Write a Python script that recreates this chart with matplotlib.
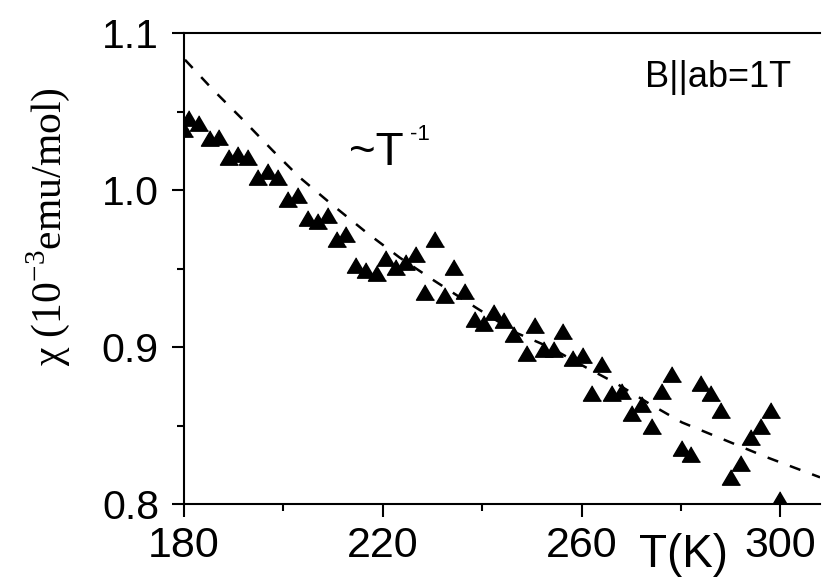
import matplotlib
matplotlib.use('Agg')
import matplotlib.pyplot as plt
from matplotlib.ticker import FormatStrFormatter

plt.rcParams['font.family'] = ['Liberation Sans', 'DejaVu Sans']
plt.rcParams['mathtext.fontset'] = 'custom'
plt.rcParams['mathtext.rm'] = 'Liberation Serif'

# measured susceptibility, B || ab = 1 T
temp = [180.0, 181.0, 183.0, 185.2, 187.0, 189.0, 190.8, 192.9, 194.9, 196.9,
        198.9, 200.9, 202.9, 204.9, 206.9, 208.9, 210.7, 212.7, 214.7, 216.7,
        218.8, 220.6, 222.6, 224.6, 226.6, 228.6, 230.6, 232.6, 234.4, 236.6,
        238.6, 240.4, 242.4, 244.5, 246.5, 249.1, 250.7, 252.5, 254.5, 256.3,
        258.3, 260.3, 262.1, 264.1, 266.1, 268.2, 270.2, 272.2, 274.2, 276.2,
        278.2, 280.2, 282.0, 284.0, 286.0, 288.0, 290.0, 292.0, 294.1, 296.1,
        298.1, 299.9]
chi = [1.039, 1.046, 1.043, 1.033, 1.034, 1.021, 1.023, 1.021, 1.008, 1.012,
       1.008, 0.994, 0.997, 0.982, 0.980, 0.984, 0.969, 0.972, 0.952, 0.949,
       0.947, 0.957, 0.951, 0.954, 0.959, 0.935, 0.969, 0.933, 0.951, 0.936,
       0.918, 0.915, 0.922, 0.917, 0.908, 0.896, 0.914, 0.899, 0.899, 0.910,
       0.893, 0.895, 0.871, 0.889, 0.871, 0.872, 0.858, 0.864, 0.850, 0.872,
       0.883, 0.836, 0.832, 0.877, 0.871, 0.860, 0.817, 0.826, 0.843, 0.850,
       0.860, 0.803]

# ~1/T curve
fit_t = [180.2, 185.8, 191.8, 197.9, 203.3, 209.3, 216.7, 223.4, 230.0, 238.8,
         246.9, 253.5, 260.9, 266.9, 273.6, 280.2, 290.2, 297.1, 308.0]
fit_chi = [1.083, 1.064, 1.045, 1.025, 1.008, 0.992, 0.973, 0.957, 0.943, 0.925,
           0.909, 0.900, 0.887, 0.877, 0.864, 0.852, 0.839, 0.830, 0.817]

x_major = [180, 220, 260, 300]
x_minor = [200, 240, 280]
y_major = [0.8, 0.9, 1.0, 1.1]
y_minor = [0.85, 0.95, 1.05]

fig = plt.figure(figsize=(8.25, 5.8), dpi=100)
ax = fig.add_axes([0.223, 0.131, 0.771, 0.812])

tri = [(0, 0.85), (-1, -0.85), (1, -0.85)]
ax.plot(temp, chi, linestyle='none', marker=tri, markersize=13, color='black')
ax.plot(fit_t, fit_chi, color='black', lw=1.8, linestyle=(0, (4.5, 5)))

ax.set_xlim(180, 308)
ax.set_ylim(0.8, 1.1)
ax.set_xticks(x_major)
ax.set_xticks(x_minor, minor=True)
ax.set_yticks(y_major)
ax.set_yticks(y_minor, minor=True)
ax.yaxis.set_major_formatter(FormatStrFormatter('%.1f'))

ax.spines['right'].set_visible(False)
for s in ['left', 'bottom', 'top']:
    ax.spines[s].set_linewidth(1.5)
ax.tick_params(which='both', direction='out', width=1.5, top=False, right=False)
ax.tick_params(which='major', length=9)
ax.tick_params(which='minor', length=5)
ax.tick_params(axis='x', labelsize=31, pad=7)
ax.tick_params(axis='y', labelsize=29.5, pad=9)

ax.text(0.725, 0.885, 'B||ab=1T', transform=ax.transAxes, fontsize=26)
ax.text(213.3, 1.016, '~T', fontsize=33, va='baseline')
ax.text(225.4, 1.032, '-1', fontsize=16, va='baseline')

fig.text(683 / 825, 0.022, 'T(K)', fontsize=33, ha='center', va='baseline')
fig.text(48 / 825, 0.61, 'χ (10$^{-3}$emu/mol)', fontsize=30, rotation=90,
         ha='center', va='center', family=['Liberation Serif', 'DejaVu Serif'])

plt.savefig('out.png', dpi=100)
